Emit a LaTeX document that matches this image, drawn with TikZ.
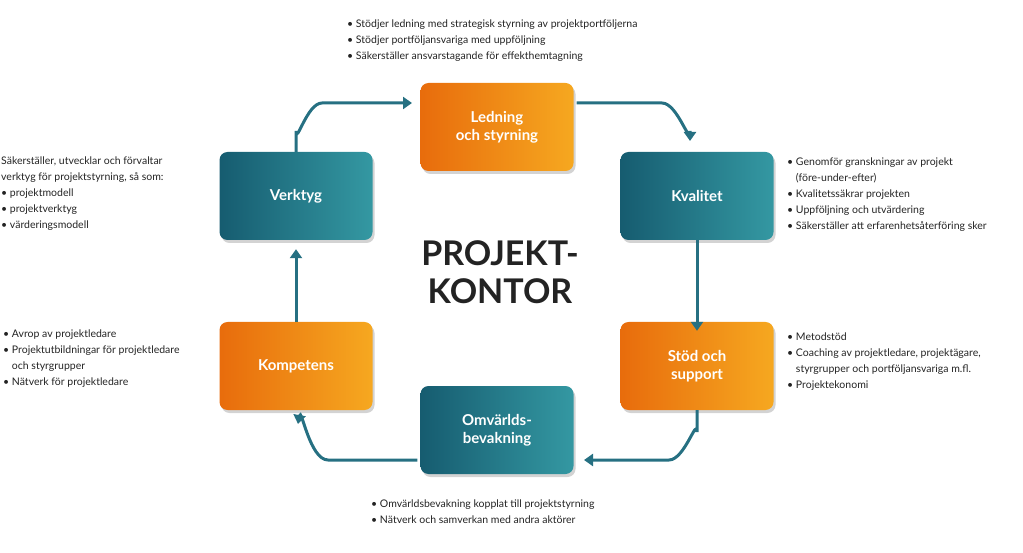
\documentclass[tikz,border=0pt]{standalone}
\usepackage{fontspec}
\setmainfont{Lato}
\usetikzlibrary{shadows,arrows.meta}
\definecolor{arr}{RGB}{38,112,130}
\definecolor{orL}{RGB}{232,108,12}
\definecolor{orR}{RGB}{246,168,32}
\definecolor{teL}{RGB}{22,92,112}
\definecolor{teR}{RGB}{52,152,162}
\definecolor{txt}{RGB}{35,35,35}
\tikzset{
 box/.style={rounded corners=8pt,minimum width=153pt,minimum height=88pt,text=white,
   font=\fontsize{15}{18}\selectfont\bfseries,align=center,drop shadow={opacity=0.35,shadow xshift=2pt,shadow yshift=-3pt}},
 obox/.style={box,left color=orL,right color=orR},
 tbox/.style={box,left color=teL,right color=teR},
 conn/.style={draw=arr,line width=3pt,-{Triangle[length=9pt,width=12pt]}},
 desc/.style={anchor=north west,align=left,inner sep=0pt,text=txt,font=\fontsize{10.5}{16}\selectfont}
}
\newcommand{\bl}{\textbullet\ }
\newcommand{\ind}{\hphantom{\textbullet\ }}
\begin{document}
\begin{tikzpicture}[x=1pt,y=-1pt]
\useasboundingbox (0,0) rectangle (1023,553);
\node[obox] (led) at (497,127) {Ledning\\och styrning};
\node[tbox] (kva) at (697,196) {Kvalitet};
\node[obox] (sto) at (697,366) {Stöd och\\support};
\node[tbox] (omv) at (497,430) {Omvärlds-\\bevakning};
\node[obox] (kom) at (296,366) {Kompetens};
\node[tbox] (ver) at (296,196) {Verktyg};
\node[text=txt,font=\fontsize{34}{38}\selectfont\bfseries,align=center] (pk) at (500,272) {PROJEKT-\\KONTOR};
\coordinate (c1) at (412,103);
\draw[conn] (ver.north) -- (296,131) to[out=-90,in=180] (322,103) -- (c1);
\draw[conn] (led.east |- 0,103) ++(3,0) -- (662,103) to[out=0,in=-90] (690,131) -- (690,141);
\draw[conn] (kva.south) -- ([yshift=-9pt]sto.north);
\draw[conn] (697,410) -- (697,432) to[out=90,in=0] (669,460) -- (584,460);
\draw[conn] (omv.west |- 0,460) ++(-3,0) -- (328,460) to[out=180,in=80] (298,424);
\draw[conn] (kom.north) -- ([yshift=-9pt]ver.south);
\node[desc] (t1) at (347,20) {\bl Stödjer ledning med strategisk styrning av projektportföljerna\\\bl Stödjer portföljansvariga med uppföljning\\\bl Säkerställer ansvarstagande för effekthemtagning};
\node[desc] (t2) at (1,157) {Säkerställer, utvecklar och förvaltar\\verktyg för projektstyrning, så som:\\\bl projektmodell\\\bl projektverktyg\\\bl värderingsmodell};
\node[desc] (t3) at (787,158) {\bl Genomför granskningar av projekt\\\ind(före-under-efter)\\\bl Kvalitetssäkrar projekten\\\bl Uppföljning och utvärdering\\\bl Säkerställer att erfarenhetsåterföring sker};
\node[desc] (t4) at (787,333) {\bl Metodstöd\\\bl Coaching av projektledare, projektägare,\\\ind styrgrupper och portföljansvariga m.fl.\\\bl Projektekonomi};
\node[desc] (t5) at (3,330) {\bl Avrop av projektledare\\\bl Projektutbildningar för projektledare\\\ind och styrgrupper\\\bl Nätverk för projektledare};
\node[desc] (t6) at (371,500) {\bl Omvärldsbevakning kopplat till projektstyrning\\\bl Nätverk och samverkan med andra aktörer};
\end{tikzpicture}
\end{document}
